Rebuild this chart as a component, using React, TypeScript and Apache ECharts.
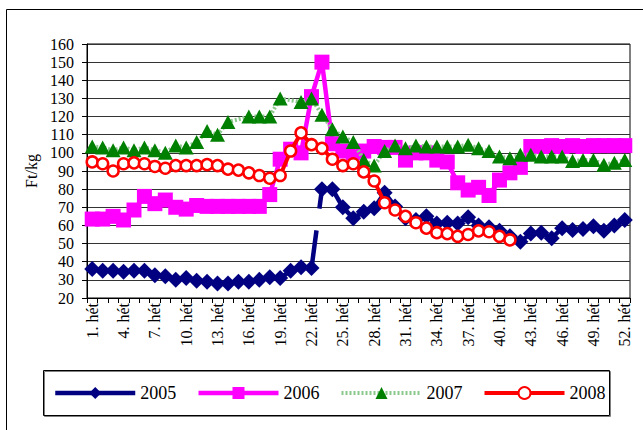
import React, { useEffect, useRef } from 'react';
import * as echarts from 'echarts';

const weeks: string[] = Array.from({ length: 52 }, (_, i) => `${i + 1}. hét`);

const y2005: (number | null)[] = [36, 35, 35, 34.5, 35, 35, 32.5, 32, 30, 31, 29.5, 29, 28, 28, 29, 29, 30, 31.5, 31, 35, 37, 36.5, 80, 80, 70, 64, 67.5, 69.5, 78, 70.5, 64, 63, 65, 61, 61.5, 61, 64.5, 60, 59, 57, 54, 51, 55.5, 56, 53, 58.5, 57.5, 58, 59.5, 57, 60, 63];
const y2006: (number | null)[] = [63.5, 63.5, 65, 63, 68.5, 76, 72, 74, 70, 69, 71, 70.5, 70.5, 70.5, 70.5, 70.5, 70.5, 77, 96.5, 102, 100, 131, 150, 105, 101, 100, 101, 103.5, 103, 103, 96, 100, 100, 96, 95, 83.5, 79.5, 81, 76.5, 85, 89, 92, 103.5, 103.5, 104, 103.5, 104, 103.5, 104, 104, 104, 104];
const y2007: (number | null)[] = [103.5, 103, 101.5, 103, 101.5, 103, 101.5, 100, 104, 103, 106, 112, 110, 117, null, 120, 120, 120, 130, null, 128, 130, 121, 113, 109, 106, 96, 93, 101, 104, 102.5, 104, 103.5, 103.5, 103.5, 103.5, 104.5, 102.5, 101, 98, 97, 99, 99, 98, 98, 98, 95.5, 96, 96, 93.5, 94.5, 96];
const y2008: (number | null)[] = [95, 94, 90, 94, 94.5, 94, 92.5, 91.5, 93, 93, 93, 93.5, 93, 91, 90.5, 89, 87.5, 86, 87.5, 101, 111, 104.5, 102.5, 96.5, 93, 94, 89.5, 84.5, 72.5, 68.5, 65, 61.5, 58.5, 56, 55.5, 54, 55, 57, 56.5, 54, 52, null, null, null, null, null, null, null, null, null, null, null];

const seriesNames = ['2005', '2006', '2007', '2008'];
const yTicksMin = 20;
const yTicksMax = 160;
const yTickStep = 10;

const FONT = 'Times New Roman, Liberation Serif, serif';

const y2005a = y2005.map((v, i) => (i < 22 ? v : null));
const y2005b = y2005.map((v, i) => (i >= 22 ? v : null));
const y2005c = y2005.map((v, i) => (i === 21 || i === 22 ? v : null));

export default function App() {
  const ref = useRef<HTMLDivElement>(null);
  useEffect(() => {
    const chart = echarts.init(ref.current!, null, { renderer: 'svg' });
    const navy = '#000080';
    const option: any = {
      animation: false,
      backgroundColor: '#ffffff',
      textStyle: { fontFamily: FONT, color: '#000' },
      grid: {
        left: 87,
        right: 13,
        top: 44,
        bottom: 132,
        show: true,
        borderColor: '#000',
        borderWidth: 1,
        backgroundColor: 'transparent',
      },
      legend: {
        data: seriesNames,
        left: 53,
        top: 384,
        itemWidth: 80,
        itemHeight: 15,
        itemGap: 20,
        padding: 0,
        lineStyle: { width: 'inherit' },
        textStyle: { fontFamily: FONT, fontSize: 18, color: '#000' },
      },
      xAxis: {
        type: 'category',
        data: weeks,
        boundaryGap: true,
        axisLine: { show: true, lineStyle: { color: '#000', width: 1 } },
        axisTick: { show: true, interval: 0, length: 5, lineStyle: { color: '#000' } },
        axisLabel: {
          interval: 2,
          rotate: 90,
          margin: 5,
          fontFamily: FONT,
          fontSize: 16,
          color: '#000',
        },
        splitLine: { show: false },
      },
      yAxis: {
        type: 'value',
        min: yTicksMin,
        max: yTicksMax,
        interval: yTickStep,
        name: 'Ft/kg',
        nameLocation: 'middle',
        nameGap: 46,
        nameTextStyle: { fontFamily: FONT, fontSize: 16, color: '#000' },
        axisLine: { show: true, lineStyle: { color: '#000', width: 1 } },
        axisTick: { show: true, length: 5, lineStyle: { color: '#000' } },
        axisLabel: { margin: 13, fontFamily: FONT, fontSize: 16, color: '#000' },
        splitLine: { show: true, lineStyle: { color: '#333', width: 1 } },
      },
      graphic: [
        {
          type: 'rect',
          shape: { x: 6.5, y: 9.5, width: 700, height: 500 },
          style: { fill: 'none', stroke: '#000', lineWidth: 1 },
          silent: true,
          z: -10,
        },
        {
          type: 'rect',
          shape: { x: 43.5, y: 370.5, width: 566, height: 45 },
          style: { fill: 'none', stroke: '#000', lineWidth: 1, shadowColor: 'rgba(0,0,0,0.5)', shadowOffsetX: 1, shadowOffsetY: 1 },
          silent: true,
          z: -10,
        },
      ],
      series: [
        {
          name: '2005',
          type: 'line',
          data: y2005a,
          symbol: 'diamond',
          symbolSize: 16,
          showAllSymbol: true,
          itemStyle: { color: navy },
          lineStyle: { color: navy, width: 4.5 },
          z: 2,
        },
        {
          name: '2005',
          type: 'line',
          data: y2005b,
          symbol: 'diamond',
          symbolSize: 16,
          showAllSymbol: true,
          itemStyle: { color: navy },
          lineStyle: { color: navy, width: 4.5 },
          z: 2,
        },
        {
          name: '2005',
          type: 'line',
          data: y2005c,
          symbol: 'none',
          showSymbol: false,
          lineStyle: { color: navy, width: 4.5, type: [38, 22] },
          z: 1,
        },
        {
          name: '2006',
          type: 'line',
          data: y2006,
          symbol: 'rect',
          symbolSize: 15,
          showAllSymbol: true,
          itemStyle: { color: '#ff00ff' },
          lineStyle: { color: '#ff00ff', width: 4.5 },
          z: 3,
        },
        {
          name: '2007',
          type: 'line',
          data: y2007,
          connectNulls: true,
          symbol: 'triangle',
          symbolSize: [15, 14],
          showAllSymbol: true,
          itemStyle: { color: '#008000' },
          lineStyle: { color: '#8cc78c', width: 4, type: [2, 2] },
          z: 4,
        },
        {
          name: '2008',
          type: 'line',
          data: y2008,
          symbol: 'circle',
          symbolSize: 11,
          showAllSymbol: true,
          itemStyle: { color: '#ffffff', borderColor: '#ff0000', borderWidth: 2.5 },
          lineStyle: { color: '#ff0000', width: 4 },
          z: 5,
        },
      ],
    };
    chart.setOption(option);
    return () => chart.dispose();
  }, []);
  return (
    <div
      ref={ref}
      style={{ position: 'fixed', left: 0, top: 0, width: 643, height: 430, background: '#fff' }}
    />
  );
}
